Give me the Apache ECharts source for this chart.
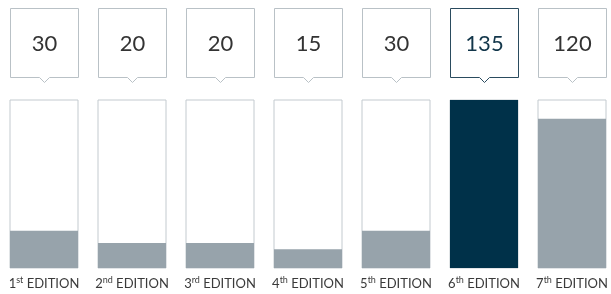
<!DOCTYPE html>
<html>
<head>
<meta charset="utf-8">
<script src="https://cdn.jsdelivr.net/npm/echarts@6/dist/echarts.min.js"></script>
<style>
  html, body { margin: 0; padding: 0; background: #fff; }
  #main { width: 611px; height: 294px; }
</style>
</head>
<body>
<div id="main"></div>
<script>
// editions and counts
const editionNums = ["1", "2", "3", "4", "5", "6", "7"];
const editionSuffix = ["st", "nd", "rd", "th", "th", "th", "th"];
const counts = [30, 20, 20, 15, 30, 135, 120];
const highlight = 5; // 6th edition

const GREY = "#97a3ab";
const NAVY = "#003149";

var chart = echarts.init(document.getElementById("main"));

var option = {
  animation: false,
  grid: {
    left: 0, width: 616, top: 100, bottom: 26,
    containLabel: false,
    outerBoundsMode: "none"
  },
  xAxis: {
    type: "category",
    data: editionNums,
    axisLine: { show: false },
    axisTick: { show: false },
    axisLabel: {
      interval: 0,
      margin: 8,
      formatter: function (v, i) {
        return "{n|" + v + "}{s|" + editionSuffix[i] + "}{e| EDITION}";
      },
      rich: {
        n: { fontSize: 13, color: "#3a3a3a", fontFamily: "Lato" },
        s: { fontSize: 9, color: "#3a3a3a", fontFamily: "Lato", padding: [0, 0, 6, 0] },
        e: { fontSize: 13, color: "#3a3a3a", fontFamily: "Lato" }
      }
    }
  },
  yAxis: {
    type: "value",
    min: 0,
    max: 135,
    show: false
  },
  series: [
    {
      type: "bar",
      barWidth: 68,
      data: counts.map(function (v, i) {
        return { value: v, itemStyle: { color: i === highlight ? NAVY : GREY } };
      }),
      showBackground: true,
      backgroundStyle: {
        color: "#fff",
        borderColor: "#c3cacf",
        borderWidth: 1
      }
    },
    {
      // callout boxes above each bar
      type: "custom",
      clip: false,
      data: counts.map(function (v, i) { return [i, v]; }),
      renderItem: function (params, api) {
        var i = api.value(0);
        var p = api.coord([i, 135]);
        var cx = Math.round(p[0]) + 0.5;
        var top = 8.5, bottom = 77.5, half = 34, tip = 5;
        var dark = i === highlight;
        return {
          type: "group",
          children: [
            {
              type: "polygon",
              shape: {
                points: [
                  [cx - half, top], [cx + half, top], [cx + half, bottom],
                  [cx + tip, bottom], [cx, bottom + tip], [cx - tip, bottom],
                  [cx - half, bottom]
                ]
              },
              style: {
                fill: "#fff",
                stroke: dark ? "#2a4b5e" : "#b9c1c6",
                lineWidth: 1
              }
            },
            {
              type: "text",
              x: cx,
              y: (top + bottom) / 2 + 1,
              style: {
                text: String(api.value(1)),
                fontSize: 22,
                fontFamily: "Lato",
                fill: dark ? "#12364a" : "#333",
                align: "center",
                verticalAlign: "middle"
              }
            }
          ]
        };
      }
    }
  ]
};

chart.setOption(option);
</script>
</body>
</html>
